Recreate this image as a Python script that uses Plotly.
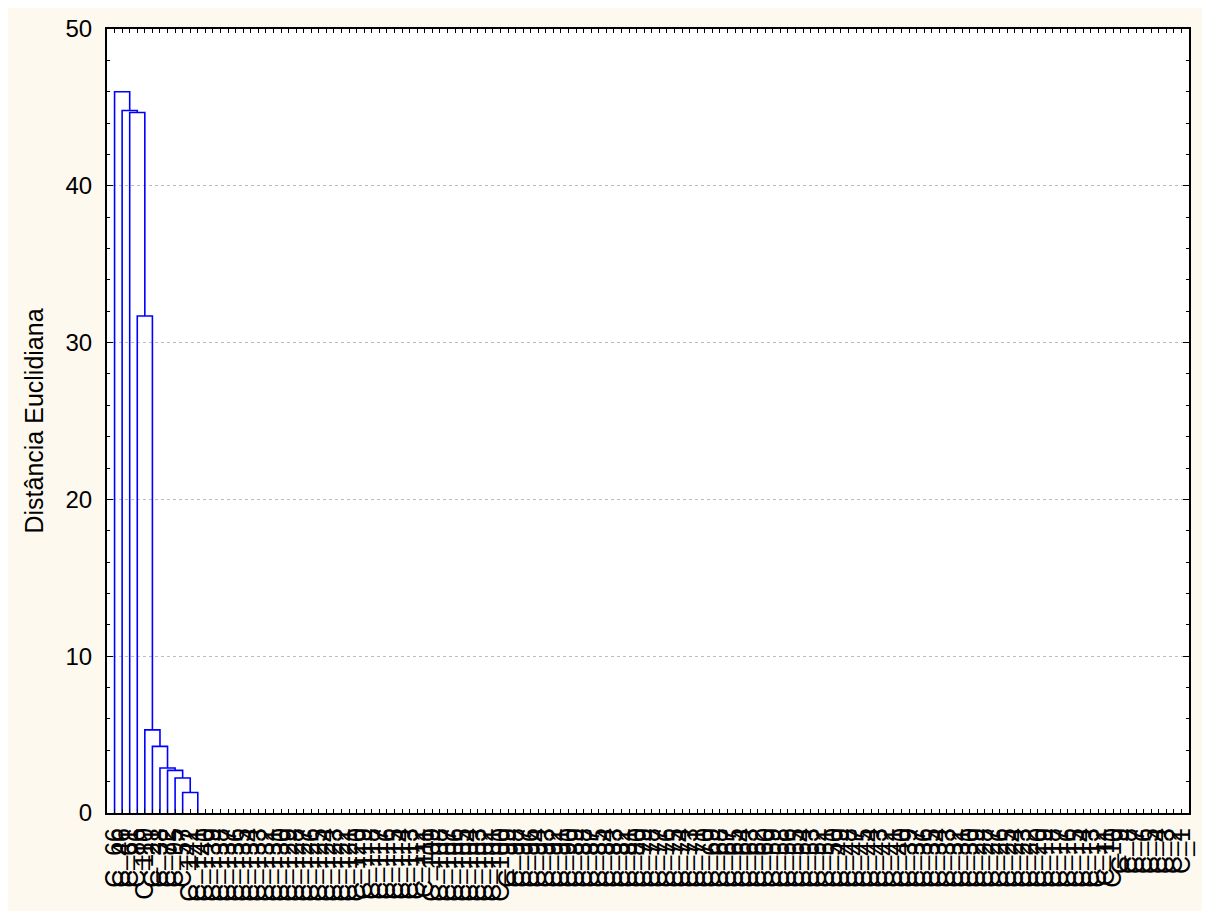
import plotly.graph_objects as go

# ---- data ----
# objects that join the tree one by one (left side of the dendrogram)
outlier_labels = ["C_66", "C_46", "C_61", "C_86", "C_110", "C_21", "C_38", "C_72", "C_95", "C_57"]
# linkage distance at which each of those objects joins the rest
merge_heights = [46.0, 44.8, 44.67, 31.7, 5.3, 4.25, 2.87, 2.72, 2.23, 1.31]
# all remaining objects are merged at distance 0, listed in descending label order
n_objects = 142
zero_cluster_labels = [f"C_{i}" for i in range(n_objects, 0, -1) if f"C_{i}" not in outlier_labels]
leaf_labels = outlier_labels + zero_cluster_labels
y_ticks = [0, 10, 20, 30, 40, 50]
y_title = "Distância Euclidiana"

# ---- build dendrogram segments ----
n = len(leaf_labels)
pos = list(range(1, n + 1))
xs, ys = [], []
for k, h in enumerate(merge_heights):
    left = pos[k]
    right = pos[k + 2]
    child_h = merge_heights[k + 1] if k + 1 < len(merge_heights) else 0
    xs += [left, left, right, right, None]
    ys += [0, h, h, child_h, None]

fig = go.Figure()
fig.add_trace(go.Scatter(x=xs, y=ys, mode="lines",
                         line=dict(color="#0000FF", width=1.6),
                         hoverinfo="skip", showlegend=False))

font_family = "Liberation Sans, Arial, sans-serif"
fig.update_layout(
    width=1202, height=903,
    margin=dict(l=99, r=21, t=21, b=98),
    paper_bgcolor="#FEF9EF",
    plot_bgcolor="#FFFFFF",
    font=dict(family=font_family, color="black"),
    xaxis=dict(
        range=[0, n + 1],
        tickmode="array", tickvals=pos, ticktext=leaf_labels,
        tickangle=-90,
        ticks="inside", ticklen=4, tickwidth=1, tickcolor="black",
        showline=True, linecolor="black", linewidth=2, mirror="allticks",
        showgrid=False, zeroline=False,
        automargin=False,
        ticklabelstandoff=3,
        tickfont=dict(size=25, family=font_family, color="black"),
    ),
    yaxis=dict(
        range=[0, 50],
        tickmode="array", tickvals=y_ticks,
        ticks="inside", ticklen=6, tickwidth=1, tickcolor="black",
        minor=dict(tick0=0, dtick=2, ticks="inside", ticklen=3, tickcolor="black", showgrid=False),
        showline=True, linecolor="black", linewidth=2, mirror="allticks",
        showgrid=True, gridcolor="#BDBDBD", gridwidth=1, griddash="dot",
        zeroline=False,
        automargin=False,
        ticklabelstandoff=8,
        tickfont=dict(size=24, family=font_family, color="black"),
        title=dict(text=y_title, font=dict(size=25, family=font_family, color="black"), standoff=15),
    ),
)

fig.write_html("out.html")
